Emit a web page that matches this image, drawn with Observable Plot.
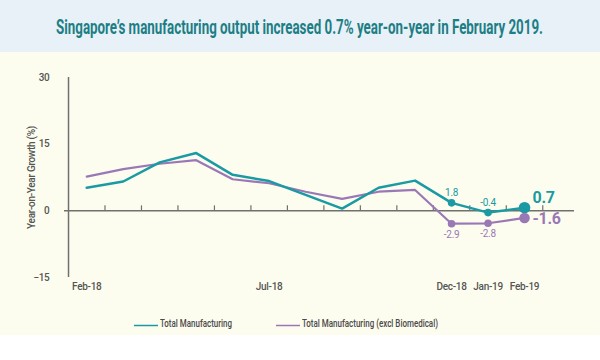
<!DOCTYPE html>
<html>
<head>
<meta charset="utf-8">
<script src="https://cdn.jsdelivr.net/npm/d3@7"></script>
<script src="https://cdn.jsdelivr.net/npm/@observablehq/plot@0.6"></script>
<style>
  html, body { margin: 0; padding: 0; background: #ffffff; width: 600px; height: 360px; overflow: hidden; }
  .font { font-family: Roboto, "DejaVu Sans Condensed", sans-serif; }
  #title { height: 52px; background: #e7f1f7; color: #1d7e86; position: relative; }
  #titleText { position: absolute; left: 56px; top: 15px; font-size: 20px; font-weight: bold; white-space: nowrap;
               transform-origin: 0 0; display: inline-block; }
  #panel { height: 283px; background: #fdfdef; position: relative; }
  #legend { position: absolute; top: 265px; left: 0; width: 600px; height: 16px; font-size: 11px; color: #4a4a4a; }
  .item { position: absolute; top: 0; height: 16px; }
  .item svg { position: absolute; left: 0; top: 0; }
  .item span { position: absolute; left: 26px; top: 0px; white-space: nowrap; transform-origin: 0 50%; font-weight: 500; }
</style>
</head>
<body>
<div id="title" class="font"><span id="titleText">Singapore’s manufacturing output increased 0.7% year-on-year in February 2019.</span></div>
<div id="panel">
  <div id="chart"></div>
  <div id="legend" class="font"></div>
</div>
<script>
const months = ["Feb-18","Mar-18","Apr-18","May-18","Jun-18","Jul-18","Aug-18","Sep-18","Oct-18","Nov-18","Dec-18","Jan-19","Feb-19"];
const totalManufacturing = [5.2, 6.6, 10.9, 13.0, 8.1, 6.7, 3.6, 0.5, 5.2, 6.8, 1.8, -0.4, 0.7];
const exclBiomedical = [7.7, 9.4, 10.6, 11.4, 7.1, 6.2, 4.3, 2.7, 4.3, 4.7, -2.9, -2.8, -1.6];
const labeledMonths = ["Feb-18","Jul-18","Dec-18","Jan-19","Feb-19"];
const highlightMonths = ["Dec-18","Jan-19"];
const latestMonth = "Feb-19";
const yTicks = [-15, 0, 15, 30];
const seriesNames = ["Total Manufacturing", "Total Manufacturing (excl Biomedical)"];
const seriesColors = ["#1a9aa2", "#9a78b6"];

const rows = [];
months.forEach((m, i) => {
  rows.push({i, month: m, series: seriesNames[0], value: totalManufacturing[i]});
  rows.push({i, month: m, series: seriesNames[1], value: exclBiomedical[i]});
});
const tRows = rows.filter(d => d.series === seriesNames[0]);
const pRows = rows.filter(d => d.series === seriesNames[1]);
const hlT = tRows.filter(d => highlightMonths.includes(d.month));
const hlP = pRows.filter(d => highlightMonths.includes(d.month));
const lastT = tRows.filter(d => d.month === latestMonth);
const lastP = pRows.filter(d => d.month === latestMonth);
const boundaries = months.map((m, i) => i + 0.5);
const fmt = v => (v < 0 ? "-" : "") + Math.abs(v).toFixed(1);
const font = 'Roboto, "DejaVu Sans Condensed", sans-serif';

const chart = Plot.plot({
  width: 600,
  height: 245,
  marginTop: 25,
  marginBottom: 20,
  marginLeft: 64,
  marginRight: 26,
  style: {background: "transparent", fontFamily: font, fontSize: "10px", color: "#4f4f4f", letterSpacing: "-0.3px"},
  x: {domain: [-0.61, 13.37], axis: null},
  y: {domain: [-15, 30], axis: null},
  marks: [
    Plot.axisY({ticks: yTicks, tickSize: 0, tickPadding: 15, fontSize: 10, fontWeight: 500, fill: "#555",
      label: "Year-on-Year Growth (%)", labelAnchor: "center", labelArrow: "none", labelOffset: 37}),
    Plot.axisX({ticks: labeledMonths.map(m => months.indexOf(m)), tickFormat: i => months[i], tickSize: 0,
      tickPadding: 5, fontSize: 10, fontWeight: 500, fill: "#555", label: null}),
    Plot.ruleX([-0.5], {y1: -15, y2: 30, stroke: "#707070", strokeWidth: 1.5}),
    Plot.ruleY([0], {stroke: "#707070", strokeWidth: 1.5}),
    Plot.ruleX(boundaries, {y1: 0, y2: 0, insetTop: -5, stroke: "#707070", strokeWidth: 1.2}),
    Plot.line(pRows, {x: "i", y: "value", stroke: seriesColors[1], strokeWidth: 2.2}),
    Plot.line(tRows, {x: "i", y: "value", stroke: seriesColors[0], strokeWidth: 2.5}),
    Plot.dot(hlT, {x: "i", y: "value", r: 3.8, fill: seriesColors[0]}),
    Plot.dot(hlP, {x: "i", y: "value", r: 3.8, fill: seriesColors[1]}),
    Plot.dot(lastT, {x: "i", y: "value", r: 5.8, fill: seriesColors[0]}),
    Plot.dot(lastP, {x: "i", y: "value", r: 5.3, fill: seriesColors[1]}),
    Plot.text(hlT, {x: "i", y: "value", text: d => fmt(d.value), dy: -10, fill: seriesColors[0], fontSize: 10}),
    Plot.text(hlP, {x: "i", y: "value", text: d => fmt(d.value), dy: 11, fill: seriesColors[1], fontSize: 10}),
    Plot.text(lastT, {x: "i", y: "value", text: d => fmt(d.value), dx: 8, dy: -10, textAnchor: "start",
      fill: seriesColors[0], fontSize: 16, fontWeight: "bold"}),
    Plot.text(lastP, {x: "i", y: "value", text: d => fmt(d.value), dx: 8, dy: 1, textAnchor: "start",
      fill: seriesColors[1], fontSize: 16, fontWeight: "bold"})
  ]
});
document.getElementById("chart").appendChild(chart);

// condense title to the reference width
const tt = document.getElementById("titleText");
const tw = tt.getBoundingClientRect().width;
tt.style.transform = `scaleX(${487 / tw})`;

const legend = document.getElementById("legend");
const lefts = [134, 276];
const textWidths = [72, 136];
seriesNames.forEach((name, k) => {
  const item = document.createElement("div");
  item.className = "item";
  item.style.left = lefts[k] + "px";
  item.innerHTML = `<svg width="26" height="16"><line x1="0" x2="24" y1="8.5" y2="8.5" stroke="${seriesColors[k]}" stroke-width="1.5"/></svg>`;
  const label = document.createElement("span");
  label.textContent = name;
  item.appendChild(label);
  legend.appendChild(item);
  const w = label.getBoundingClientRect().width;
  label.style.transform = `scaleX(${textWidths[k] / w})`;
});
</script>
</body>
</html>
